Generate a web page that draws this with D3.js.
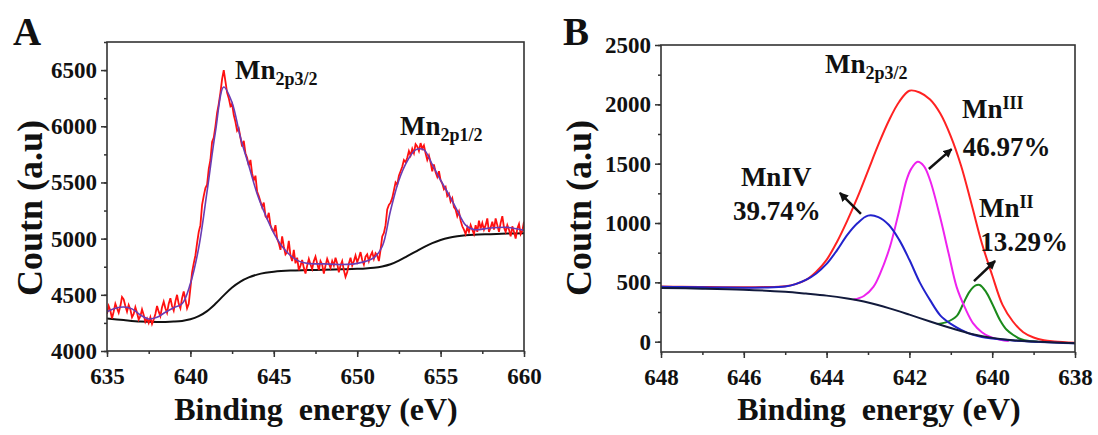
<!DOCTYPE html>
<html>
<head>
<meta charset="utf-8">
<script src="https://cdn.jsdelivr.net/npm/d3@7"></script>
<style>
body { margin: 0; background: #fff; }
svg text { font-family: "Liberation Serif", "Times New Roman", serif; font-weight: bold; fill: #111; }
.tick line, .domain { stroke: #333; }
</style>
</head>
<body>
<svg id="chart" width="1098" height="435"></svg>
<script>
// ---------- panel A : Mn 2p survey ----------
var aStart = 635, aStep = 0.1;
// raw counts, one every 0.1 eV from 635 to 660
var aRaw = [
 4330,4400,4360,4290,4350,4420,4380,4340,4400,4480,
 4460,4400,4350,4410,4370,4300,4330,4390,4340,4280,
 4310,4370,4320,4260,4290,4250,4300,4240,4280,4330,
 4400,4350,4310,4390,4440,4380,4340,4420,4470,4400,
 4360,4440,4500,4420,4380,4470,4530,4460,4380,4420,
 4560,4700,4780,4850,4960,5060,5120,5300,5380,5450,
 5480,5620,5700,5860,5900,6000,6120,6200,6300,6420,
 6500,6400,6300,6250,6180,6200,6100,6040,5960,5980,
 5900,5820,5870,5760,5720,5650,5700,5580,5520,5560,
 5420,5380,5330,5280,5320,5200,5180,5230,5120,5080,
 5060,5120,5000,4960,4900,5020,4930,4860,4880,4980,
 4850,4800,4900,4780,4830,4720,4760,4810,4740,4690,
 4760,4820,4770,4730,4800,4840,4780,4720,4800,4770,
 4690,4760,4820,4780,4740,4800,4760,4830,4780,4700,
 4760,4800,4720,4660,4700,4780,4830,4760,4800,4850,
 4790,4830,4880,4810,4770,4840,4860,4800,4850,4880,
 4820,4870,4850,4800,4900,5020,5050,5120,5260,5300,
 5320,5360,5430,5500,5480,5560,5600,5640,5700,5680,
 5720,5780,5740,5800,5760,5840,5820,5780,5850,5800,
 5830,5760,5700,5740,5680,5600,5660,5590,5550,5600,
 5520,5490,5440,5460,5380,5400,5330,5360,5280,5260,
 5200,5240,5160,5110,5080,5040,5100,5060,5120,5080,
 5040,5120,5060,5160,5090,5140,5080,5120,5180,5060,
 5100,5150,5080,5180,5120,5060,5140,5200,5100,5060,
 5120,5080,5020,5110,5060,5000,5090,5130,5040,5070,
 5150
];
var aFitX = [635,635.5,636,636.5,637,637.5,638,638.5,639,639.5,640,640.5,641,641.5,642,642.5,643,643.5,644,644.5,645,645.5,646,646.5,647,648,649,650,651,651.5,652,652.5,653,653.5,654,654.5,655,655.5,656,656.5,657,658,659,660];
var aFitY = [4350,4380,4392,4375,4320,4285,4300,4345,4385,4420,4600,4920,5420,5950,6350,6210,5900,5650,5400,5210,5050,4930,4850,4800,4780,4775,4770,4780,4830,4930,5250,5520,5690,5790,5790,5660,5520,5390,5250,5120,5080,5095,5100,5075];
var aBgX = [635,636,637,638,638.5,639,639.5,640,640.5,641,641.5,642,642.5,643,643.5,644,644.5,645,646,647,648,649,650,650.5,651,651.5,652,652.5,653,653.5,654,654.5,655,655.5,656,656.5,657,658,659,660];
var aBgY = [4290,4275,4262,4258,4259,4262,4268,4282,4310,4355,4420,4495,4565,4618,4655,4680,4696,4706,4716,4720,4723,4727,4731,4734,4740,4752,4772,4805,4845,4885,4925,4960,4988,5008,5021,5030,5035,5040,5045,5048];
var aXTicks = [635,640,645,650,655,660];
var aYTicks = [4000,4500,5000,5500,6000,6500];

// ---------- panel B : Mn 2p3/2 deconvolution ----------
var bEnvX = [648,647.5,647,646.5,646,645.5,645,644.75,644.5,644.25,644,643.75,643.5,643.25,643,642.75,642.5,642.25,642,641.75,641.5,641.25,641,640.75,640.5,640.25,640,639.75,639.5,639.25,639,638.75,638.5,638];
var bEnvY = [465,463,461,459,458,460,468,485,520,590,690,840,1020,1220,1440,1660,1860,2020,2115,2100,2040,1920,1730,1480,1160,830,560,310,170,80,35,12,2,-10];
var bMn4X = [648,647.5,647,646.5,646,645.5,645,644.75,644.5,644.25,644,643.75,643.5,643.25,643,642.75,642.5,642.25,642,641.75,641.5,641.25,641,640.75,640.5,640.25,640,639.5,639,638.5,638];
var bMn4Y = [462,460,458,456,455,456,465,485,520,575,655,770,900,1000,1062,1050,985,860,690,500,350,220,150,100,62,40,27,10,0,-8,-13];
var bMn3X = [643.35,643.1,642.87,642.7,642.47,642.25,642.07,641.95,641.8,641.65,641.5,641.26,641.05,640.86,640.65,640.46,640.25,640.06,639.8,639.6];
var bMn3Y = [355,385,462,580,800,1100,1361,1460,1516,1480,1360,1052,740,462,280,154,80,42,15,5];
var bMn2X = [641.34,641.1,640.86,640.7,640.55,640.4,640.3,640.15,640,639.81,639.65,639.49,639.3,639.1,638.9];
var bMn2Y = [150,165,215,320,420,475,478,420,320,181,100,56,20,5,0];
var bBgX = [648,647,646,645,644.5,644,643.5,643,642.5,642,641.5,641,640.5,640,639.5,639,638.5,638];
var bBgY = [452,447,438,420,405,388,363,330,283,228,170,115,65,32,12,2,-7,-13];
var bXTicks = [648,646,644,642,640,638];
var bYTicks = [0,500,1000,1500,2000,2500];

var svg = d3.select("#chart");
svg.append("rect").attr("width", 1098).attr("height", 435).attr("fill", "#fff");

var defs = svg.append("defs");
defs.append("marker")
    .attr("id", "head")
    .attr("viewBox", "0 0 10 10")
    .attr("refX", 9).attr("refY", 5)
    .attr("markerWidth", 9).attr("markerHeight", 9)
    .attr("markerUnits", "userSpaceOnUse")
    .attr("orient", "auto")
  .append("path")
    .attr("d", "M0,0L10,5L0,10z")
    .attr("fill", "#111");

function frame(g, x, y, xMajor, xMinor, yMajor, yMinor) {
    var x0 = d3.min(x.range()), x1 = d3.max(x.range());
    var y0 = d3.min(y.range()), y1 = d3.max(y.range());

    g.append("g").attr("transform", "translate(0," + y1 + ")")
        .call(d3.axisBottom(x).tickValues(xMinor).tickSize(3).tickFormat(""))
        .call(function(s) { s.select(".domain").remove(); });
    g.append("g").attr("transform", "translate(" + x0 + ",0)")
        .call(d3.axisLeft(y).tickValues(yMinor).tickSize(3).tickFormat(""))
        .call(function(s) { s.select(".domain").remove(); });

    var xa = g.append("g").attr("transform", "translate(0," + y1 + ")")
        .call(d3.axisBottom(x).tickValues(xMajor).tickSize(6).tickPadding(11).tickFormat(d3.format("d")));
    var ya = g.append("g").attr("transform", "translate(" + x0 + ",0)")
        .call(d3.axisLeft(y).tickValues(yMajor).tickSize(6).tickPadding(4).tickFormat(d3.format("d")));
    [xa, ya].forEach(function(a) {
        a.selectAll("text").style("font-size", "23px").attr("fill", "#111");
        a.select(".domain").remove();
    });
    g.selectAll(".tick line").attr("stroke-width", 1.5);

    g.append("rect")
        .attr("x", x0).attr("y", y0)
        .attr("width", x1 - x0).attr("height", y1 - y0)
        .attr("fill", "none").attr("stroke", "#333").attr("stroke-width", 1.6);
}

function label(g, x, y, px, py, main, sub, up, size) {
    var t = g.append("text").attr("x", x(px)).attr("y", y(py)).style("font-size", size + "px").text(main);
    if (sub) {
        t.append("tspan").attr("dy", up ? -9 : 6).style("font-size", "18px").text(sub);
    }
    return t;
}

var smooth = function(xs, xsc, ysc) {
    return d3.line().curve(d3.curveCatmullRom)
        .x(function(d, i) { return xsc(xs[i]); })
        .y(function(d) { return ysc(d); });
};

// ---------- draw panel A ----------
var gA = svg.append("g");
var xA = d3.scaleLinear().domain([635, 660]).range([107, 524]);
var yA = d3.scaleLinear().domain([4000, 6750]).range([351, 42]);

defs.append("clipPath").attr("id", "clipA")
    .append("rect").attr("x", 107).attr("y", 42).attr("width", 417).attr("height", 309);

var lineA = d3.line()
    .x(function(d, i) { return xA(aStart + i * aStep); })
    .y(function(d) { return yA(d); });

var plotA = gA.append("g").attr("clip-path", "url(#clipA)");
plotA.append("path").datum(aBgY).attr("d", smooth(aBgX, xA, yA))
    .attr("fill", "none").attr("stroke", "#111").attr("stroke-width", 2);
plotA.append("path").datum(aRaw).attr("d", lineA)
    .attr("fill", "none").attr("stroke", "#ff1010").attr("stroke-width", 1.8);
plotA.append("path").datum(aFitY).attr("d", smooth(aFitX, xA, yA))
    .attr("fill", "none").attr("stroke", "#6a3cb4").attr("stroke-width", 1.6);

frame(gA, xA, yA, aXTicks, d3.range(635, 660.1, 2.5), aYTicks, d3.range(4000, 6751, 250));

label(gA, xA, yA, 642.67, 6424, "Mn", "2p3/2", false, 27);
label(gA, xA, yA, 652.57, 5922, "Mn", "2p1/2", false, 27);

gA.append("text").attr("x", 13).attr("y", 45).style("font-size", "39px").text("A");
gA.append("text").attr("x", 316).attr("y", 420).attr("text-anchor", "middle")
    .style("font-size", "32px").style("white-space", "pre").text("Binding  energy (eV)");
gA.append("text").attr("transform", "translate(42,208) rotate(-90)").attr("text-anchor", "middle")
    .style("font-size", "36px").text("Coutn (a.u)");

// ---------- draw panel B ----------
var gB = svg.append("g");
var xB = d3.scaleLinear().domain([648, 638]).range([661, 1075]);
var yB = d3.scaleLinear().domain([-87, 2500]).range([352, 45]);

defs.append("clipPath").attr("id", "clipB")
    .append("rect").attr("x", 661).attr("y", 45).attr("width", 414).attr("height", 307);
var plotB = gB.append("g").attr("clip-path", "url(#clipB)");

var seriesB = [
    { xs: bEnvX, ys: bEnvY, color: "#ff2222" },
    { xs: bMn2X, ys: bMn2Y, color: "#1b8a1b" },
    { xs: bMn3X, ys: bMn3Y, color: "#ee22ee" },
    { xs: bMn4X, ys: bMn4Y, color: "#2222cc" },
    { xs: bBgX, ys: bBgY, color: "#121a3c" }
];
seriesB.forEach(function(s) {
    plotB.append("path").datum(s.ys).attr("d", smooth(s.xs, xB, yB))
        .attr("fill", "none").attr("stroke", s.color).attr("stroke-width", 2);
});

frame(gB, xB, yB, bXTicks, d3.range(638, 648.1, 1), bYTicks, d3.range(0, 2501, 250));

// arrows: [tail eV, tail count, head eV, head count]
var arrowsB = [
    [641.53, 1455, 640.98, 1623],
    [643.17, 1076, 643.68, 1253],
    [640.44, 511, 639.93, 680]
];
gB.selectAll("line.arrow").data(arrowsB).enter().append("line")
    .attr("class", "arrow")
    .attr("x1", function(d) { return xB(d[0]); })
    .attr("y1", function(d) { return yB(d[1]); })
    .attr("x2", function(d) { return xB(d[2]); })
    .attr("y2", function(d) { return yB(d[3]); })
    .attr("stroke", "#111").attr("stroke-width", 2.5)
    .attr("marker-end", "url(#head)");

label(gB, xB, yB, 644.04, 2264, "Mn", "2p3/2", false, 27);
label(gB, xB, yB, 640.73, 1885, "Mn", "III", true, 27);
label(gB, xB, yB, 640.71, 1564, "46.97%", null, false, 27);
label(gB, xB, yB, 646.07, 1312, "MnIV", null, false, 27);
label(gB, xB, yB, 646.26, 1025, "39.74%", null, false, 27);
label(gB, xB, yB, 640.32, 1050, "Mn", "II", true, 27);
label(gB, xB, yB, 640.29, 764, "13.29%", null, false, 27);

gB.append("text").attr("x", 563).attr("y", 45).style("font-size", "39px").text("B");
gB.append("text").attr("x", 879).attr("y", 420).attr("text-anchor", "middle")
    .style("font-size", "32px").style("white-space", "pre").text("Binding  energy (eV)");
gB.append("text").attr("transform", "translate(591,208) rotate(-90)").attr("text-anchor", "middle")
    .style("font-size", "36px").text("Coutn (a.u)");
</script>
</body>
</html>
